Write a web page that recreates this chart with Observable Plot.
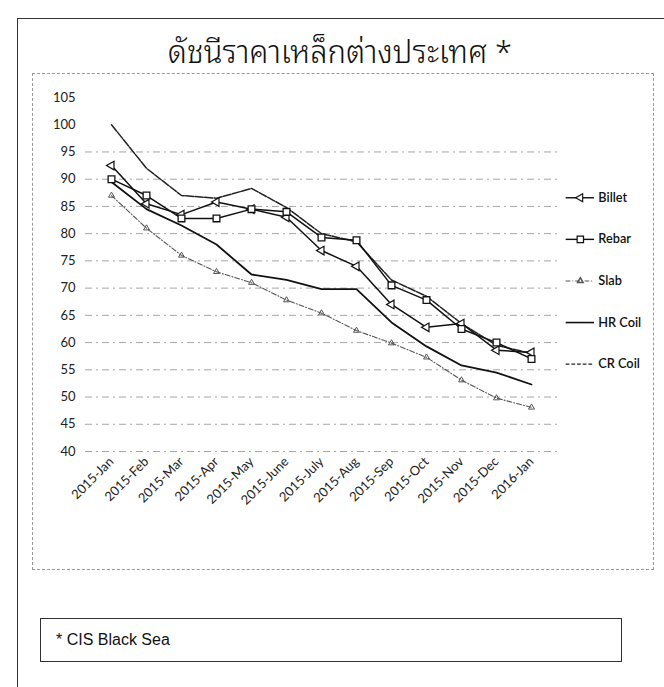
<!DOCTYPE html>
<html>
<head>
<meta charset="utf-8">
<script src="https://cdn.jsdelivr.net/npm/d3@7"></script>
<script src="https://cdn.jsdelivr.net/npm/@observablehq/plot@0.6"></script>
<style>
  body { margin: 0; background: #fff; }
  #page { position: relative; width: 664px; height: 687px; overflow: hidden; background: #fff; }
  #outer { position: absolute; left: 17px; top: 18px; width: 660px; height: 680px; border: 1px solid #333; }
  #title { position: absolute; left: 8px; top: 24px; width: 664px; text-align: center;
           font-family: "Noto Sans Thai Looped", "Noto Sans Thai", "Loma", "Garuda", "Noto Sans", "DejaVu Sans", sans-serif;
           font-size: 31px; font-weight: 300; color: #111; }
  #area { position: absolute; left: 32px; top: 73px; width: 620px; height: 495px; border: 1px dashed #999; }
  #chart { position: absolute; left: 0; top: 70px; }
  #legend { position: absolute; left: 560px; top: 185px; }
  #caption { position: absolute; left: 40px; top: 618px; width: 582px; height: 44px; border: 1px solid #333;
             font-family: "Liberation Sans", Arial, sans-serif; font-size: 16px; color: #111;
             box-sizing: border-box; padding-left: 15px; line-height: 42px; }
</style>
</head>
<body>
<div id="page">
  <div id="outer"></div>
  <div id="title">ดัชนีราคาเหล็กต่างประเทศ *</div>
  <div id="area"></div>
  <div id="chart"></div>
  <div id="legend"></div>
  <div id="caption">* CIS Black Sea</div>
</div>
<script>
const months = ["2015-Jan","2015-Feb","2015-Mar","2015-Apr","2015-May","2015-June","2015-July","2015-Aug","2015-Sep","2015-Oct","2015-Nov","2015-Dec","2016-Jan"];
const billet = [92.5, 85.5, 83.5, 85.8, 84.5, 83.0, 76.9, 74.0, 67.0, 62.8, 63.5, 58.6, 58.2];
const rebar  = [90.0, 87.0, 82.8, 82.8, 84.5, 84.0, 79.3, 78.8, 70.5, 67.8, 62.5, 60.0, 57.0];
const slab   = [87.0, 81.0, 76.0, 73.0, 71.0, 67.8, 65.4, 62.2, 59.9, 57.3, 53.1, 49.8, 48.1];
const hrCoil = [89.5, 84.5, 81.5, 78.0, 72.5, 71.5, 69.8, 69.8, 63.7, 59.3, 55.8, 54.5, 52.3];
const crCoil = [100.0, 92.0, 87.0, 86.5, 88.3, 84.8, 80.0, 78.5, 71.5, 68.5, 63.5, 59.5, 58.0];
const yTicks = [40, 45, 50, 55, 60, 65, 70, 75, 80, 85, 90, 95, 100, 105];
const gridTicks = [40, 45, 50, 55, 60, 65, 70, 75, 80, 85, 90, 95];
const seriesNames = ["Billet", "Rebar", "Slab", "HR Coil", "CR Coil"];

const rows = (vals) => months.map((m, i) => ({month: m, value: vals[i]}));
const dBillet = rows(billet), dRebar = rows(rebar), dSlab = rows(slab), dHR = rows(hrCoil), dCR = rows(crCoil);

const font = "Lato, 'Open Sans', sans-serif";

const chart = Plot.plot({
  width: 664,
  height: 471,
  marginLeft: 85,
  marginRight: 107,
  marginTop: 27,
  marginBottom: 90,
  style: {fontFamily: font, fontSize: "13px", color: "#222", background: "transparent"},
  x: {type: "point", domain: months, padding: 0.6, label: null},
  y: {domain: [40, 105], label: null},
  marks: [
    Plot.ruleY(gridTicks, {stroke: "#888", strokeWidth: 1, strokeDasharray: "7,4,2,4", strokeOpacity: 0.75}),
    Plot.axisY(yTicks, {tickSize: 0, tickPadding: 10, fontSize: 13, label: null}),
    Plot.axisX({tickSize: 0, tickPadding: 8, tickRotate: -45, fontSize: 13, label: null}),
    // Slab
    Plot.line(dSlab, {x: "month", y: "value", stroke: "#555", strokeWidth: 1.1, strokeDasharray: "5,2,1,2"}),
    Plot.dot(dSlab, {x: "month", y: "value", symbol: "triangle", r: 2.2, stroke: "#555", fill: "none", strokeWidth: 1}),
    // CR Coil
    Plot.line(dCR, {x: "month", y: "value", stroke: "#222", strokeWidth: 1.5, strokeDasharray: "8,1.5"}),
    // HR Coil
    Plot.line(dHR, {x: "month", y: "value", stroke: "#111", strokeWidth: 1.8}),
    // Billet
    Plot.line(dBillet, {x: "month", y: "value", stroke: "#111", strokeWidth: 1.5}),
    Plot.dot(dBillet, {x: "month", y: "value", symbol: "triangle", r: 3.2, rotate: -90, stroke: "#111", fill: "white", strokeWidth: 1.2}),
    // Rebar
    Plot.line(dRebar, {x: "month", y: "value", stroke: "#111", strokeWidth: 1.5}),
    Plot.dot(dRebar, {x: "month", y: "value", symbol: "square", r: 3.8, stroke: "#111", fill: "white", strokeWidth: 1.3})
  ]
});
document.getElementById("chart").appendChild(chart);

const styleOf = {
  "Billet":  {stroke: "#111", width: 1.5, dash: null, symbol: "triangle", rotate: -90},
  "Rebar":   {stroke: "#111", width: 1.5, dash: null, symbol: "square", rotate: 0},
  "Slab":    {stroke: "#555", width: 1.1, dash: "5,2,1,2", symbol: "triangle", rotate: 0},
  "HR Coil": {stroke: "#111", width: 1.7, dash: null, symbol: null, rotate: 0},
  "CR Coil": {stroke: "#222", width: 1.4, dash: "4,2", symbol: null, rotate: 0}
};
const legRows = seriesNames.map(n => ({name: n, ...styleOf[n]}));

const legend = Plot.plot({
  width: 110,
  height: 202,
  marginLeft: 6,
  marginRight: 74,
  marginTop: 13,
  marginBottom: 13,
  style: {fontFamily: font, fontSize: "13px", color: "#111", background: "transparent"},
  x: {domain: [0, 1], axis: null},
  y: {type: "point", domain: seriesNames, axis: null, padding: 0},
  marks: [
    legRows.filter(d => !d.dash).map(d => Plot.ruleY([d.name], {x1: 0, x2: 1, y: d => d, stroke: d.stroke, strokeWidth: d.width})),
    legRows.filter(d => d.dash).map(d => Plot.ruleY([d.name], {x1: 0, x2: 1, y: d => d, stroke: d.stroke, strokeWidth: d.width, strokeDasharray: d.dash})),
    Plot.dot(legRows.filter(d => d.symbol === "square"), {x: 0.5, y: "name", symbol: "square", r: 3.8, stroke: "#111", fill: "white", strokeWidth: 1.3}),
    Plot.dot(legRows.filter(d => d.name === "Billet"), {x: 0.5, y: "name", symbol: "triangle", r: 3.2, rotate: -90, stroke: "#111", fill: "white", strokeWidth: 1.2}),
    Plot.dot(legRows.filter(d => d.name === "Slab"), {x: 0.5, y: "name", symbol: "triangle", r: 2.2, stroke: "#555", fill: "none"}),
    Plot.text(legRows, {x: 1, y: "name", text: "name", dx: 4, textAnchor: "start", fontSize: 13.5, fontWeight: 600, fill: "#111"})
  ]
});
document.getElementById("legend").appendChild(legend);
</script>
</body>
</html>
